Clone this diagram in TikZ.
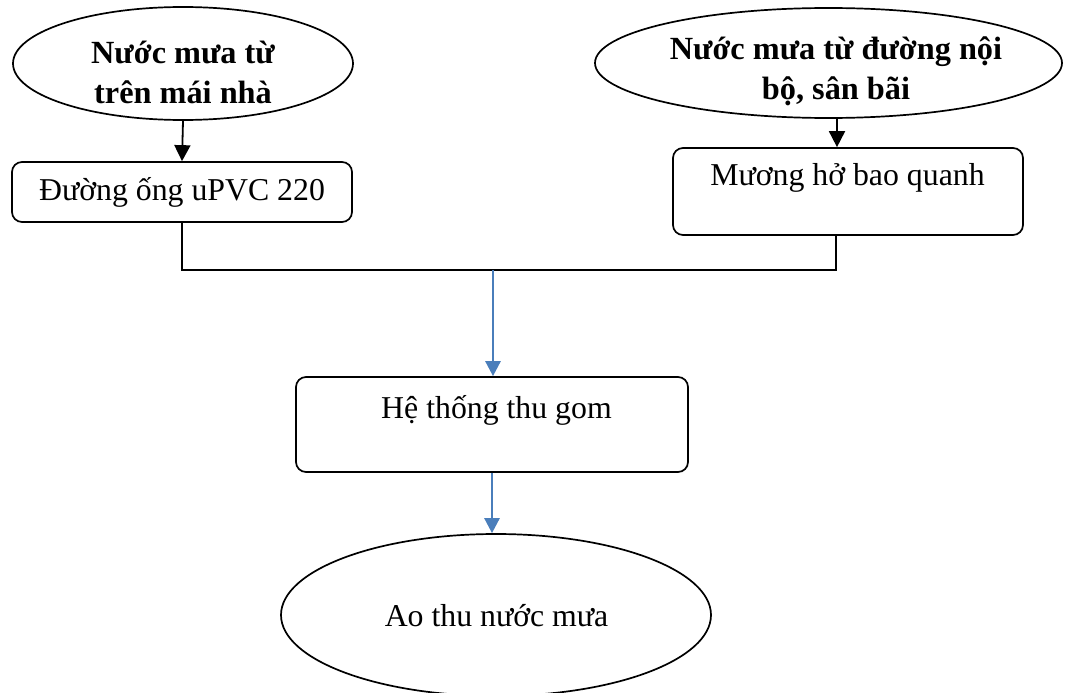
\documentclass[tikz,border=0pt]{standalone}
\usepackage{fontspec}
\setmainfont{Liberation Serif}
\usetikzlibrary{shapes.geometric,arrows.meta}
\definecolor{arrowblue}{RGB}{74,126,187}
\begin{document}
\begin{tikzpicture}[x=1pt,y=-1pt,
  oval/.style={draw, ellipse, line width=1.7pt, inner sep=0pt},
  rbox/.style={draw, rounded corners=10pt, line width=1.7pt, inner sep=0pt},
  txt/.style={font=\fontsize{31.8}{40}\selectfont, align=center, inner sep=0pt},
  btxt/.style={font=\fontsize{32.3}{40}\selectfont\bfseries, align=center, inner sep=0pt},
  conn/.style={line width=1.7pt},
  blk/.style={line width=1.8pt, -{Triangle[length=16pt,width=16pt]}},
  blu/.style={draw=arrowblue, line width=2.6pt, -{Triangle[length=15pt,width=15pt]}}
]
\useasboundingbox (0,0) rectangle (1065,693);

% ellipses
\node[oval, minimum width=340pt, minimum height=113pt] (e1) at (183,63.5) {};
\node[btxt] (t1) at (183,72) {Nước mưa từ\\trên mái nhà};
\node[oval, minimum width=467pt, minimum height=110pt] (e2) at (828.5,63) {};
\node[btxt] (t2) at (836,71) {Nước mưa từ đường nội\\bộ, sân bãi};
\node[oval, minimum width=430pt, minimum height=162pt] (e3) at (496,615) {};
\node[txt, anchor=base] (t3) at (496.5,626) {Ao thu nước mưa};

% boxes
\node[rbox, minimum width=340pt, minimum height=60pt, txt] (b1) at (182,192) {Đường ống uPVC 220};
\node[rbox, minimum width=350pt, minimum height=87pt] (b2) at (848,191.5) {};
\node[txt, anchor=base] (tb2) at (847.5,185) {Mương hở bao quanh};
\node[rbox, minimum width=392pt, minimum height=95pt] (b3) at (492,424.5) {};
\node[txt, anchor=base] (tb3) at (496.5,418) {Hệ thống thu gom};

% connectors
\draw[blk] (e1.south) -- (b1.north);
\coordinate (a2) at (837,118);
\draw[blk] (a2) -- (a2 |- b2.north);

\coordinate (jl) at (182,270);
\coordinate (jr) at (836,270);
\coordinate (jm) at (493,270);
\draw[conn] (b1.south) -- (jl) -- (jr) -- (jr |- b2.south);
\draw[blu] (jm) -- (jm |- b3.north);
\draw[blu] (b3.south) -- (b3.south |- e3.north);
\end{tikzpicture}
\end{document}
